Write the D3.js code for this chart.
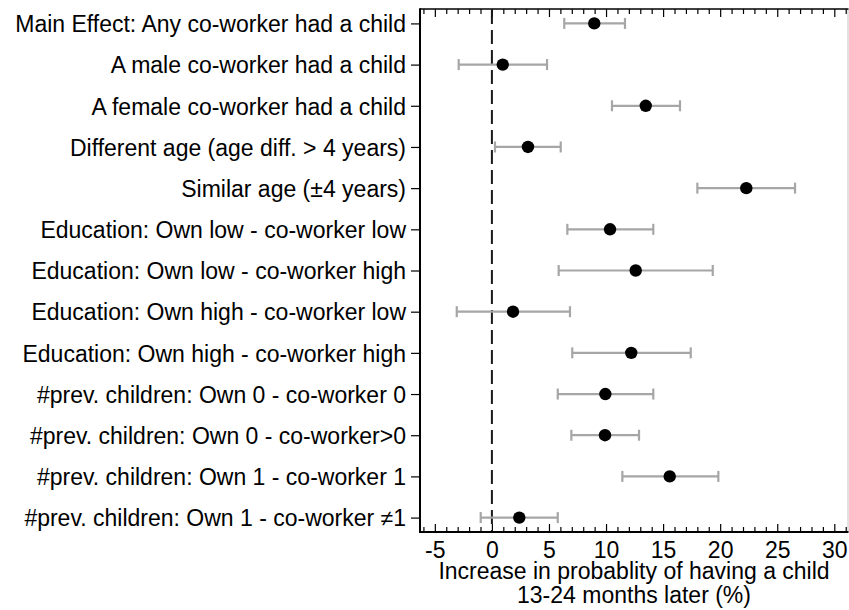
<!DOCTYPE html>
<html>
<head>
<meta charset="utf-8">
<script src="https://cdn.jsdelivr.net/npm/d3@7/dist/d3.min.js"></script>
<style>
  html, body { margin: 0; padding: 0; background: #fff; }
  svg { display: block; }
  svg text { font-family: "Liberation Sans", Arial, Helvetica, sans-serif; }
</style>
</head>
<body>
<svg id="chart" width="849" height="610"></svg>
<script>
// Coefficient plot: effect estimates with 95% confidence intervals
const labels = [
  "Main Effect: Any co-worker had a child",
  "A male co-worker had a child",
  "A female co-worker had a child",
  "Different age (age diff. > 4 years)",
  "Similar age (\u00b14 years)",
  "Education: Own low - co-worker low",
  "Education: Own low - co-worker high",
  "Education: Own high - co-worker low",
  "Education: Own high - co-worker high",
  "#prev. children: Own 0 - co-worker 0",
  "#prev. children: Own 0 - co-worker>0",
  "#prev. children: Own 1 - co-worker 1",
  "#prev. children: Own 1 - co-worker \u22601"
];
const estimates = [8.97, 0.95, 13.48, 3.16, 22.29, 10.35, 12.60, 1.85, 12.21, 9.94, 9.91, 15.58, 2.40];
const lower     = [6.34, -2.91, 10.52, 0.27, 18.00, 6.61, 5.85, -3.08, 7.04, 5.77, 6.96, 11.43, -0.98];
const upper     = [11.66, 4.83, 16.48, 6.03, 26.56, 14.14, 19.35, 6.84, 17.42, 14.14, 12.89, 19.84, 5.77];
const xTickValues = [-5, 0, 5, 10, 15, 20, 25, 30];
const xDomain = [-6.3, 31.2];
const axisTitle = ["Increase in probablity of having a child", "13-24 months later (%)"];

const rows = labels.map((label, i) => ({ label, est: estimates[i], lo: lower[i], hi: upper[i] }));

const plot = { left: 420, right: 848, top: 9, bottom: 532 };
const fontSize = 23;

const svg = d3.select("#chart");

const x = d3.scaleLinear().domain(xDomain).range([plot.left, plot.right]);
const y = d3.scalePoint().domain(labels).range([plot.top, plot.bottom]).padding(0.35);

// Minor ticks every unit, major ticks at the labelled values
const minorTicks = d3.range(Math.ceil(xDomain[0]), Math.floor(xDomain[1]) + 1)
  .filter(v => !xTickValues.includes(v));

function styleAxis(g) {
  g.attr("font-family", null).attr("font-size", null);
  g.select(".domain").remove();
  g.selectAll("line").attr("stroke", "#000").attr("stroke-width", 1.2);
  g.selectAll("text").attr("font-size", fontSize).attr("fill", "#000");
}

// Bottom axis: inward ticks with labels (plain hyphen for negatives)
svg.append("g")
  .attr("transform", `translate(0,${plot.bottom})`)
  .call(d3.axisBottom(x).tickValues(xTickValues).tickSize(-8).tickPadding(10).tickFormat(d => String(d)))
  .call(styleAxis);
svg.append("g")
  .attr("transform", `translate(0,${plot.bottom})`)
  .call(d3.axisBottom(x).tickValues(minorTicks).tickSize(-5).tickFormat(""))
  .call(styleAxis);

// Top axis: inward ticks, no labels
svg.append("g")
  .attr("transform", `translate(0,${plot.top})`)
  .call(d3.axisTop(x).tickValues(xTickValues).tickSize(-8).tickFormat(""))
  .call(styleAxis);
svg.append("g")
  .attr("transform", `translate(0,${plot.top})`)
  .call(d3.axisTop(x).tickValues(minorTicks).tickSize(-5).tickFormat(""))
  .call(styleAxis);

// Left axis with category labels
svg.append("g")
  .attr("transform", `translate(${plot.left},0)`)
  .call(d3.axisLeft(y).tickSize(9).tickPadding(5))
  .call(styleAxis)
  .selectAll("text").attr("dy", "0.36em");

// Frame
svg.append("line")
  .attr("x1", plot.right).attr("x2", plot.right)
  .attr("y1", plot.top).attr("y2", plot.bottom)
  .attr("stroke", "#c4c4c4").attr("stroke-width", 1);
svg.append("line")
  .attr("x1", plot.left).attr("x2", plot.right + 0.5)
  .attr("y1", plot.top).attr("y2", plot.top)
  .attr("stroke", "#000").attr("stroke-width", 1.6);
svg.append("line")
  .attr("x1", plot.left).attr("x2", plot.right + 0.5)
  .attr("y1", plot.bottom).attr("y2", plot.bottom)
  .attr("stroke", "#000").attr("stroke-width", 2);
svg.append("line")
  .attr("x1", plot.left).attr("x2", plot.left)
  .attr("y1", plot.top - 0.8).attr("y2", plot.bottom + 1)
  .attr("stroke", "#000").attr("stroke-width", 2);

// Reference line at zero
svg.append("line")
  .attr("x1", x(0)).attr("x2", x(0))
  .attr("y1", plot.top + 1).attr("y2", plot.bottom - 1)
  .attr("stroke", "#1a1a1a").attr("stroke-width", 2)
  .attr("stroke-dasharray", "14,6");

// Confidence intervals
const ci = svg.append("g").attr("stroke", "#a6a6a6").attr("stroke-width", 2.2).attr("fill", "none");
ci.selectAll("line.bar").data(rows).join("line").attr("class", "bar")
  .attr("x1", d => x(d.lo)).attr("x2", d => x(d.hi))
  .attr("y1", d => y(d.label)).attr("y2", d => y(d.label));
ci.selectAll("line.capl").data(rows).join("line").attr("class", "capl")
  .attr("x1", d => x(d.lo)).attr("x2", d => x(d.lo))
  .attr("y1", d => y(d.label) - 5.5).attr("y2", d => y(d.label) + 5.5);
ci.selectAll("line.caph").data(rows).join("line").attr("class", "caph")
  .attr("x1", d => x(d.hi)).attr("x2", d => x(d.hi))
  .attr("y1", d => y(d.label) - 5.5).attr("y2", d => y(d.label) + 5.5);

// Point estimates
svg.append("g").selectAll("circle").data(rows).join("circle")
  .attr("cx", d => x(d.est)).attr("cy", d => y(d.label))
  .attr("r", 6.2).attr("fill", "#000");

// Axis title
svg.append("text")
  .attr("x", (plot.left + plot.right) / 2)
  .attr("text-anchor", "middle")
  .attr("font-size", fontSize)
  .attr("fill", "#000")
  .selectAll("tspan").data(axisTitle).join("tspan")
  .attr("x", (plot.left + plot.right) / 2)
  .attr("y", (d, i) => 579 + i * 24)
  .text(d => d);
</script>
</body>
</html>
